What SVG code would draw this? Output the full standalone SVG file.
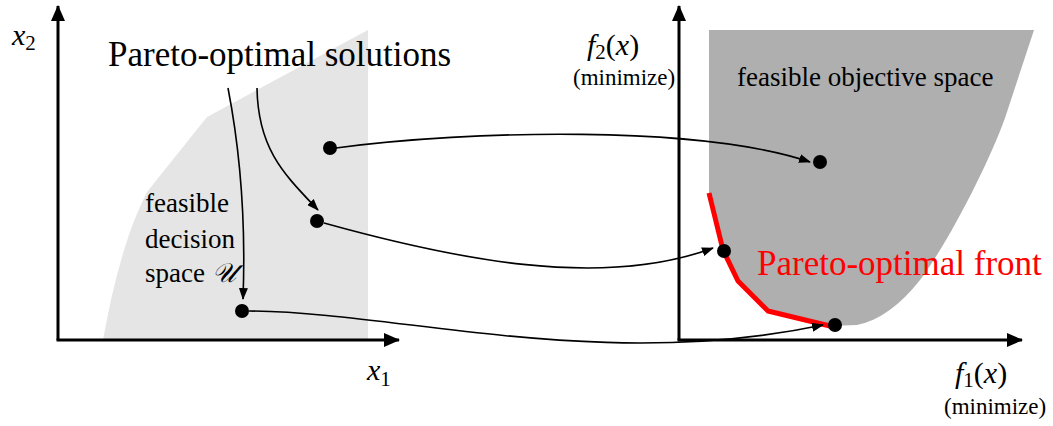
<svg xmlns="http://www.w3.org/2000/svg" width="1053" height="426" viewBox="0 0 1053 426">
<style>
  .lbl { font-size: 27px; }
  .big { font-size: 35px; }
  .min { font-size: 23px; }
  .mi { font-style: italic; font-size: 30px; }
  .sub { font-size: 21px; }
  .axis { stroke: #000; stroke-width: 3; fill: none; }
  .conn { stroke: #000; stroke-width: 1.6; fill: none; marker-end: url(#ah); }
  .dot { fill: #000; }
</style>
<defs>
  <marker id="ah" markerUnits="userSpaceOnUse" markerWidth="12" markerHeight="9" refX="11" refY="4.5" orient="auto">
    <path d="M0,0 L12,4.5 L0,9 Z" fill="#000"/>
  </marker>
  <marker id="axh" markerUnits="userSpaceOnUse" markerWidth="16" markerHeight="16" refX="15" refY="8" orient="auto">
    <path d="M0,1 L16,8 L0,15 Z" fill="#000"/>
  </marker>
</defs>
<rect width="1053" height="426" fill="#fff"/>

<g id="decision-space">
  <path d="M103,340 C 112,290 125,235 147,192 L207,117 L368,30 L368,340 Z" fill="#e5e5e5"/>
</g>
<g id="objective-space">
  <path d="M709,30 L1034,30 L1005,118 C 990,160 950,240 920,280 C 900,305 880,320 857,325 L830,326 L768,311 L738,281 L723,250 L709,193 Z" fill="#afafaf"/>
</g>

<g id="axes">
  <path class="axis" d="M58,340 L58,6" marker-end="url(#axh)"/>
  <path class="axis" d="M56.5,340 L399,340" marker-end="url(#axh)"/>
  <path class="axis" d="M679,340 L679,6" marker-end="url(#axh)"/>
  <path class="axis" d="M677.5,340 L1022,340" marker-end="url(#axh)"/>
</g>

<g id="pareto-front">
  <polyline points="709,193 723,250 738,281 768,311 830,326" fill="none" stroke="#ff0000" stroke-width="5" stroke-linejoin="round"/>
</g>

<g id="connectors">
  <path class="conn" d="M228,88 C 240,150 246,220 243,299"/>
  <path class="conn" d="M257,88 C 258,150 285,175 318,210"/>
  <path class="conn" d="M336,148 C 470,130 700,125 810,162"/>
  <path class="conn" d="M324,223 C 450,258 600,290 713,248"/>
  <path class="conn" d="M249,311 C 400,312 600,372 823,325"/>
</g>

<g id="points">
  <circle id="p1" class="dot" cx="330" cy="148" r="7"/>
  <circle id="p2" class="dot" cx="317" cy="221" r="7"/>
  <circle id="p3" class="dot" cx="242" cy="311" r="7"/>
  <circle id="q1" class="dot" cx="820" cy="162" r="7"/>
  <circle id="q2" class="dot" cx="724" cy="251" r="7"/>
  <circle id="q3" class="dot" cx="835" cy="325" r="7"/>
</g>

<g id="labels" font-family="'Liberation Serif', 'Times New Roman', Times, 'Noto Serif', 'DejaVu Serif', FreeSerif, Tinos, serif" fill="#000">
  <text class="big" x="108" y="66">Pareto-optimal solutions</text>
  <text class="lbl" x="145" y="212">feasible</text>
  <text class="lbl" x="145" y="248">decision</text>
  <text class="lbl" x="145" y="282">space <tspan font-style="italic">𝒰</tspan></text>
  <text class="lbl" x="737" y="86">feasible objective space</text>
  <text class="big" x="757" y="275" fill="#ff0000">Pareto-optimal front</text>
  <text x="12" y="45"><tspan class="mi">x</tspan><tspan class="sub" dy="5">2</tspan></text>
  <text x="367" y="380"><tspan class="mi">x</tspan><tspan class="sub" dy="6">1</tspan></text>
  <text x="587" y="55"><tspan class="mi">f</tspan><tspan class="sub" dy="4">2</tspan><tspan font-size="30" dy="-4">(</tspan><tspan class="mi">x</tspan><tspan font-size="30">)</tspan></text>
  <text class="min" x="573" y="85">(minimize)</text>
  <text x="955" y="383"><tspan class="mi">f</tspan><tspan class="sub" dy="4">1</tspan><tspan font-size="30" dy="-4">(</tspan><tspan class="mi">x</tspan><tspan font-size="30">)</tspan></text>
  <text class="min" x="944" y="414">(minimize)</text>
</g>
</svg>
